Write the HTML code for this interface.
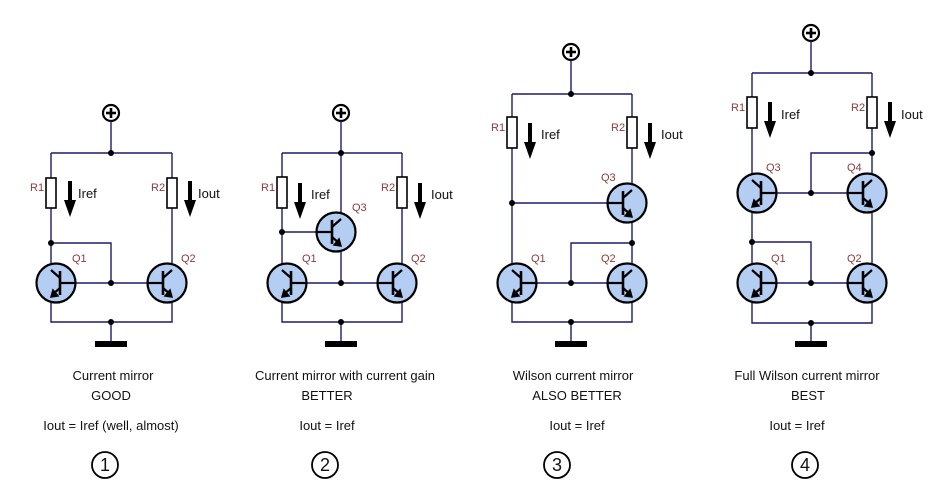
<!DOCTYPE html>
<html><head><meta charset="utf-8"><style>
html,body{margin:0;padding:0;background:#fff;width:937px;height:503px;overflow:hidden}
svg{display:block}
.w{stroke:#1c1c6c;stroke-width:1.4;fill:none}
.t{font-family:"Liberation Sans",sans-serif;font-size:13px;fill:#111}
.l{font-family:"Liberation Sans",sans-serif;font-size:11px;fill:#8a3b3b}
</style></head><body>
<svg width="937" height="503" viewBox="0 0 937 503">
<defs>
<g id="T">
<circle cx="-5" cy="0" r="19.5" fill="#b4cdf2" stroke="#000" stroke-width="2.2"/>
<line x1="-24.5" y1="0" x2="-9" y2="0" stroke="#000" stroke-width="2.2"/>
<line x1="-9" y1="-12" x2="-9" y2="12" stroke="#000" stroke-width="2.6"/>
<line x1="-9" y1="-5" x2="0" y2="-13" stroke="#000" stroke-width="2.2"/>
<line x1="-9" y1="5" x2="-2" y2="11" stroke="#000" stroke-width="2.2"/>
<polygon points="0,14 -7,13 -2,7" fill="#000" stroke="#000" stroke-width="1.5"/>
</g>
<g id="P"><circle cx="0" cy="0" r="8" fill="#fff" stroke="#000" stroke-width="2.2"/><line x1="-5" y1="0" x2="5" y2="0" stroke="#000" stroke-width="2.6"/><line x1="0" y1="-5" x2="0" y2="5" stroke="#000" stroke-width="2.6"/></g>
<g id="A"><line x1="0" y1="0" x2="0" y2="22" stroke="#000" stroke-width="4"/><polygon points="-6,19 6,19 0,36" fill="#000"/></g>
<g id="G"><rect x="-16" y="0" width="32" height="6" fill="#000"/></g>
</defs>

<!-- Circuit 1 -->
<g>
<use href="#P" x="111" y="113"/>
<path class="w" d="M111 121V153M51 153H172M51 153V322H172V153M51 243H111V283M75 283H148M111 322V341"/>
<rect x="46" y="178" width="10" height="30" fill="#fff" stroke="#000" stroke-width="1.6"/>
<rect x="167" y="178" width="10" height="30" fill="#fff" stroke="#000" stroke-width="1.6"/>
<use href="#A" x="70" y="181"/><use href="#A" x="190" y="181"/>
<use href="#T" transform="translate(51,283) scale(-1,1)"/>
<use href="#T" x="172" y="283"/>
<use href="#G" x="111" y="341"/>
<g fill="#000"><circle cx="111" cy="153" r="3"/><circle cx="51" cy="243" r="3"/><circle cx="111" cy="283" r="3"/><circle cx="111" cy="322" r="3"/></g>
<text class="l" x="30" y="191">R1</text><text class="l" x="151" y="191">R2</text>
<text class="t" x="78" y="198">Iref</text><text class="t" x="198" y="198">Iout</text>
<text class="l" x="72" y="262">Q1</text><text class="l" x="181" y="262">Q2</text>
</g>

<!-- Circuit 2 -->
<g>
<use href="#P" x="341" y="113"/>
<path class="w" d="M341 121V218M282 153H402M282 153V322H402V153M282 232H316M341 246V283M306 283H378M341 322V341"/>
<rect x="277" y="177" width="10" height="31" fill="#fff" stroke="#000" stroke-width="1.6"/>
<rect x="397" y="177" width="10" height="31" fill="#fff" stroke="#000" stroke-width="1.6"/>
<use href="#A" x="300" y="183"/><use href="#A" x="420" y="183"/>
<use href="#T" x="341" y="232"/>
<use href="#T" transform="translate(282,283) scale(-1,1)"/>
<use href="#T" x="402" y="283"/>
<use href="#G" x="341" y="341"/>
<g fill="#000"><circle cx="341" cy="153" r="3"/><circle cx="282" cy="232" r="3"/><circle cx="341" cy="283" r="3"/><circle cx="341" cy="322" r="3"/></g>
<text class="l" x="261" y="191">R1</text><text class="l" x="381" y="191">R2</text>
<text class="t" x="311" y="199">Iref</text><text class="t" x="431" y="199">Iout</text>
<text class="l" x="352" y="211">Q3</text>
<text class="l" x="302" y="262">Q1</text><text class="l" x="411" y="262">Q2</text>
</g>

<!-- Circuit 3 -->
<g>
<use href="#P" x="571" y="52"/>
<path class="w" d="M571 60V94M512 94H632M512 94V322H632V94M512 203H608M632 243H571V283M536 283H608M571 322V341"/>
<rect x="507" y="117" width="10" height="31" fill="#fff" stroke="#000" stroke-width="1.6"/>
<rect x="627" y="117" width="10" height="31" fill="#fff" stroke="#000" stroke-width="1.6"/>
<use href="#A" x="530" y="123"/><use href="#A" x="650" y="123"/>
<use href="#T" x="632" y="203"/>
<use href="#T" transform="translate(512,283) scale(-1,1)"/>
<use href="#T" x="632" y="283"/>
<use href="#G" x="571" y="341"/>
<g fill="#000"><circle cx="571" cy="94" r="3"/><circle cx="512" cy="203" r="3"/><circle cx="632" cy="243" r="3"/><circle cx="571" cy="283" r="3"/><circle cx="571" cy="322" r="3"/></g>
<text class="l" x="491" y="131">R1</text><text class="l" x="611" y="131">R2</text>
<text class="t" x="541" y="139">Iref</text><text class="t" x="661" y="139">Iout</text>
<text class="l" x="601" y="181">Q3</text>
<text class="l" x="531" y="262">Q1</text><text class="l" x="601" y="262">Q2</text>
</g>

<!-- Circuit 4 -->
<g>
<use href="#P" x="811" y="33"/>
<path class="w" d="M811 41V73M752 73H872M752 73V323H872V73M872 153H811V193M776 193H848M752 242H811V283M776 283H848M811 323V341"/>
<rect x="747" y="97" width="10" height="31" fill="#fff" stroke="#000" stroke-width="1.6"/>
<rect x="867" y="97" width="10" height="31" fill="#fff" stroke="#000" stroke-width="1.6"/>
<use href="#A" x="770" y="102"/><use href="#A" x="890" y="102"/>
<use href="#T" transform="translate(752,193) scale(-1,1)"/>
<use href="#T" x="872" y="193"/>
<use href="#T" transform="translate(752,283) scale(-1,1)"/>
<use href="#T" x="872" y="283"/>
<use href="#G" x="811" y="341"/>
<g fill="#000"><circle cx="811" cy="73" r="3"/><circle cx="872" cy="153" r="3"/><circle cx="811" cy="193" r="3"/><circle cx="752" cy="242" r="3"/><circle cx="811" cy="283" r="3"/><circle cx="811" cy="323" r="3"/></g>
<text class="l" x="731" y="111">R1</text><text class="l" x="851" y="111">R2</text>
<text class="t" x="781" y="119">Iref</text><text class="t" x="901" y="119">Iout</text>
<text class="l" x="766" y="171">Q3</text><text class="l" x="847" y="171">Q4</text>
<text class="l" x="771" y="262">Q1</text><text class="l" x="847" y="262">Q2</text>
</g>

<!-- Captions -->
<g class="t" text-anchor="middle">
<text x="113" y="380">Current mirror</text>
<text x="111" y="400">GOOD</text>
<text x="111" y="430">Iout = Iref (well, almost)</text>
<text x="345" y="380">Current mirror with current gain</text>
<text x="327" y="400">BETTER</text>
<text x="327" y="430">Iout = Iref</text>
<text x="573" y="380">Wilson current mirror</text>
<text x="577" y="400">ALSO BETTER</text>
<text x="577" y="430">Iout = Iref</text>
<text x="807" y="380">Full Wilson current mirror</text>
<text x="808" y="400">BEST</text>
<text x="797" y="430">Iout = Iref</text>
</g>
<g fill="none" stroke="#000" stroke-width="1.8">
<circle cx="105" cy="465" r="13"/><circle cx="325" cy="465" r="13"/><circle cx="557" cy="465" r="13"/><circle cx="805" cy="465" r="13"/>
</g>
<g class="t" text-anchor="middle" style="font-size:18px">
<text x="105" y="471">1</text><text x="325" y="471">2</text><text x="557" y="471">3</text><text x="805" y="471">4</text>
</g>
</svg>
</body></html>
